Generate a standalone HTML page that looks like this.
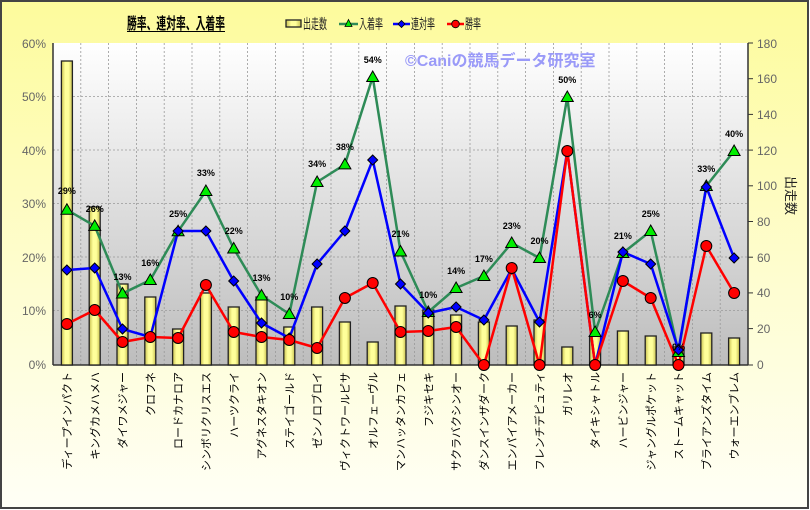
<!DOCTYPE html>
<html><head><meta charset="utf-8"><style>
html,body{margin:0;padding:0;background:#fff}
svg{display:block;font-family:"Liberation Sans","Noto Sans CJK JP",sans-serif}
</style></head><body>
<svg width="810" height="510" viewBox="0 0 810 510" xmlns="http://www.w3.org/2000/svg">
<defs>
<linearGradient id="bg" x1="0" y1="0" x2="0" y2="1">
<stop offset="0" stop-color="#fdfb9c"/><stop offset="0.55" stop-color="#fefdd0"/><stop offset="1" stop-color="#fffff6"/>
</linearGradient>
<linearGradient id="pa" x1="0" y1="0" x2="0" y2="1">
<stop offset="0" stop-color="#ffffff"/><stop offset="1" stop-color="#bdbdbd"/>
</linearGradient>
<linearGradient id="bar" x1="0" y1="0" x2="1" y2="0">
<stop offset="0" stop-color="#c8c050"/><stop offset="0.35" stop-color="#ffff9a"/><stop offset="0.65" stop-color="#ffff9a"/><stop offset="1" stop-color="#c8c050"/>
</linearGradient>
<symbol id="tri" overflow="visible"><polygon points="0,-6 6,4.5 -6,4.5" fill="#00ee00" stroke="#000" stroke-width="1"/></symbol>
<symbol id="dia" overflow="visible"><polygon points="0,-5 5,0 0,5 -5,0" fill="#0000ff" stroke="#000" stroke-width="1"/></symbol>
<symbol id="cir" overflow="visible"><circle r="5.5" fill="#ff0000" stroke="#000" stroke-width="1"/></symbol>
</defs>
<rect x="1" y="1" width="807" height="507" fill="url(#bg)" stroke="#444" stroke-width="2"/>
<rect x="53" y="43" width="695" height="322" fill="url(#pa)"/>
<g stroke="#999" stroke-width="0.8" stroke-dasharray="2,2">
<line x1="53" x2="748" y1="96.5" y2="96.5"/><line x1="53" x2="748" y1="150" y2="150"/><line x1="53" x2="748" y1="203.5" y2="203.5"/><line x1="53" x2="748" y1="257" y2="257"/><line x1="53" x2="748" y1="310.5" y2="310.5"/>
<line x1="80.8" x2="80.8" y1="43" y2="365"/><line x1="108.6" x2="108.6" y1="43" y2="365"/><line x1="136.4" x2="136.4" y1="43" y2="365"/><line x1="164.2" x2="164.2" y1="43" y2="365"/><line x1="192" x2="192" y1="43" y2="365"/><line x1="219.8" x2="219.8" y1="43" y2="365"/><line x1="247.6" x2="247.6" y1="43" y2="365"/><line x1="275.4" x2="275.4" y1="43" y2="365"/><line x1="303.2" x2="303.2" y1="43" y2="365"/><line x1="331" x2="331" y1="43" y2="365"/><line x1="358.8" x2="358.8" y1="43" y2="365"/><line x1="386.6" x2="386.6" y1="43" y2="365"/><line x1="414.4" x2="414.4" y1="43" y2="365"/><line x1="442.2" x2="442.2" y1="43" y2="365"/><line x1="470" x2="470" y1="43" y2="365"/><line x1="497.8" x2="497.8" y1="43" y2="365"/><line x1="525.6" x2="525.6" y1="43" y2="365"/><line x1="553.4" x2="553.4" y1="43" y2="365"/><line x1="581.2" x2="581.2" y1="43" y2="365"/><line x1="609" x2="609" y1="43" y2="365"/><line x1="636.8" x2="636.8" y1="43" y2="365"/><line x1="664.6" x2="664.6" y1="43" y2="365"/><line x1="692.4" x2="692.4" y1="43" y2="365"/><line x1="720.2" x2="720.2" y1="43" y2="365"/>
</g>
<g stroke="#333" stroke-width="1.5" fill="none">
<line x1="53" y1="43" x2="53" y2="365"/><line x1="748" y1="43" x2="748" y2="365"/><line x1="53" y1="365" x2="748" y2="365"/>
</g>
<g stroke="#333" stroke-width="1">
<line x1="748" x2="753" y1="43" y2="43"/><line x1="748" x2="753" y1="78.7" y2="78.7"/><line x1="748" x2="753" y1="114.4" y2="114.4"/><line x1="748" x2="753" y1="150.1" y2="150.1"/><line x1="748" x2="753" y1="185.8" y2="185.8"/><line x1="748" x2="753" y1="221.5" y2="221.5"/><line x1="748" x2="753" y1="257.2" y2="257.2"/><line x1="748" x2="753" y1="292.9" y2="292.9"/><line x1="748" x2="753" y1="328.6" y2="328.6"/><line x1="748" x2="753" y1="365" y2="365"/>
</g>
<g fill="url(#bar)" stroke="#222" stroke-width="1.3">
<rect x="61.4" y="61" width="11" height="304"/><rect x="89.2" y="207" width="11" height="158"/><rect x="117" y="284" width="11" height="81"/><rect x="144.8" y="297" width="11" height="68"/><rect x="172.6" y="329" width="11" height="36"/><rect x="200.4" y="293" width="11" height="72"/><rect x="228.2" y="307" width="11" height="58"/><rect x="256" y="297" width="11" height="68"/><rect x="283.8" y="327" width="11" height="38"/><rect x="311.6" y="307" width="11" height="58"/><rect x="339.4" y="322" width="11" height="43"/><rect x="367.2" y="342" width="11" height="23"/><rect x="395" y="306" width="11" height="59"/><rect x="422.8" y="310" width="11" height="55"/><rect x="450.6" y="315" width="11" height="50"/><rect x="478.4" y="322" width="11" height="43"/><rect x="506.2" y="326" width="11" height="39"/><rect x="534" y="320" width="11" height="45"/><rect x="561.8" y="347" width="11" height="18"/><rect x="589.6" y="336" width="11" height="29"/><rect x="617.4" y="331" width="11" height="34"/><rect x="645.2" y="336" width="11" height="29"/><rect x="673" y="347" width="11" height="18"/><rect x="700.8" y="333" width="11" height="32"/><rect x="728.6" y="338" width="11" height="27"/>
</g>
<text x="405" y="66" font-size="16" fill="#9a9af8" font-weight="bold">©Caniの競馬データ研究室</text>
<polyline fill="none" stroke="#2e8b57" stroke-width="2.5" stroke-linejoin="round" points="66.9,209.8 94.7,225.9 122.5,293.5 150.3,280 178.1,231.3 205.9,191 233.7,248.5 261.5,295.5 289.3,314 317.1,182 344.9,164.4 372.7,77 400.5,251.5 428.3,312 456.1,288 483.9,276 511.7,243 539.5,258 567.3,97 595.1,332 622.9,253 650.7,231 678.5,352 706.3,186 734.1,151"/>
<polyline fill="none" stroke="#0000ff" stroke-width="2.5" stroke-linejoin="round" points="66.9,270 94.7,268 122.5,329 150.3,337 178.1,231 205.9,231 233.7,281 261.5,323 289.3,338 317.1,264 344.9,231 372.7,160 400.5,284 428.3,313 456.1,307 483.9,320 511.7,269 539.5,322 567.3,151 595.1,365 622.9,252 650.7,264 678.5,350 706.3,187 734.1,258"/>
<polyline fill="none" stroke="#ff0000" stroke-width="2.5" stroke-linejoin="round" points="66.9,324 94.7,310 122.5,342 150.3,337 178.1,338 205.9,285 233.7,332 261.5,337 289.3,340 317.1,348 344.9,298 372.7,283 400.5,332 428.3,331 456.1,327 483.9,365 511.7,268 539.5,365 567.3,151 595.1,365 622.9,281 650.7,298 678.5,365 706.3,246 734.1,293"/>
<g>
<use href="#tri" x="66.9" y="209.8"/><use href="#tri" x="94.7" y="225.9"/><use href="#tri" x="122.5" y="293.5"/><use href="#tri" x="150.3" y="280"/><use href="#tri" x="178.1" y="231.3"/><use href="#tri" x="205.9" y="191"/><use href="#tri" x="233.7" y="248.5"/><use href="#tri" x="261.5" y="295.5"/><use href="#tri" x="289.3" y="314"/><use href="#tri" x="317.1" y="182"/><use href="#tri" x="344.9" y="164.4"/><use href="#tri" x="372.7" y="77"/><use href="#tri" x="400.5" y="251.5"/><use href="#tri" x="428.3" y="312"/><use href="#tri" x="456.1" y="288"/><use href="#tri" x="483.9" y="276"/><use href="#tri" x="511.7" y="243"/><use href="#tri" x="539.5" y="258"/><use href="#tri" x="567.3" y="97"/><use href="#tri" x="595.1" y="332"/><use href="#tri" x="622.9" y="253"/><use href="#tri" x="650.7" y="231"/><use href="#tri" x="678.5" y="352"/><use href="#tri" x="706.3" y="186"/><use href="#tri" x="734.1" y="151"/>
</g>
<g>
<use href="#dia" x="66.9" y="270"/><use href="#dia" x="94.7" y="268"/><use href="#dia" x="122.5" y="329"/><use href="#dia" x="150.3" y="337"/><use href="#dia" x="178.1" y="231"/><use href="#dia" x="205.9" y="231"/><use href="#dia" x="233.7" y="281"/><use href="#dia" x="261.5" y="323"/><use href="#dia" x="289.3" y="338"/><use href="#dia" x="317.1" y="264"/><use href="#dia" x="344.9" y="231"/><use href="#dia" x="372.7" y="160"/><use href="#dia" x="400.5" y="284"/><use href="#dia" x="428.3" y="313"/><use href="#dia" x="456.1" y="307"/><use href="#dia" x="483.9" y="320"/><use href="#dia" x="511.7" y="269"/><use href="#dia" x="539.5" y="322"/><use href="#dia" x="567.3" y="151"/><use href="#dia" x="595.1" y="365"/><use href="#dia" x="622.9" y="252"/><use href="#dia" x="650.7" y="264"/><use href="#dia" x="678.5" y="350"/><use href="#dia" x="706.3" y="187"/><use href="#dia" x="734.1" y="258"/>
</g>
<g>
<use href="#cir" x="66.9" y="324"/><use href="#cir" x="94.7" y="310"/><use href="#cir" x="122.5" y="342"/><use href="#cir" x="150.3" y="337"/><use href="#cir" x="178.1" y="338"/><use href="#cir" x="205.9" y="285"/><use href="#cir" x="233.7" y="332"/><use href="#cir" x="261.5" y="337"/><use href="#cir" x="289.3" y="340"/><use href="#cir" x="317.1" y="348"/><use href="#cir" x="344.9" y="298"/><use href="#cir" x="372.7" y="283"/><use href="#cir" x="400.5" y="332"/><use href="#cir" x="428.3" y="331"/><use href="#cir" x="456.1" y="327"/><use href="#cir" x="483.9" y="365"/><use href="#cir" x="511.7" y="268"/><use href="#cir" x="539.5" y="365"/><use href="#cir" x="567.3" y="151"/><use href="#cir" x="595.1" y="365"/><use href="#cir" x="622.9" y="281"/><use href="#cir" x="650.7" y="298"/><use href="#cir" x="678.5" y="365"/><use href="#cir" x="706.3" y="246"/><use href="#cir" x="734.1" y="293"/>
</g>
<g font-size="9" font-weight="bold" fill="#000" text-anchor="middle">
<text x="66.9" y="194">29%</text><text x="94.7" y="212">26%</text><text x="122.5" y="280">13%</text><text x="150.3" y="266">16%</text><text x="178.1" y="217">25%</text><text x="205.9" y="176">33%</text><text x="233.7" y="234">22%</text><text x="261.5" y="281">13%</text><text x="289.3" y="300">10%</text><text x="317.1" y="167">34%</text><text x="344.9" y="150">38%</text><text x="372.7" y="63">54%</text><text x="400.5" y="237">21%</text><text x="428.3" y="298">10%</text><text x="456.1" y="274">14%</text><text x="483.9" y="262">17%</text><text x="511.7" y="229">23%</text><text x="539.5" y="244">20%</text><text x="567.3" y="83">50%</text><text x="595.1" y="318">6%</text><text x="622.9" y="239">21%</text><text x="650.7" y="217">25%</text><text x="678.5" y="350">0%</text><text x="706.3" y="172">33%</text><text x="734.1" y="137">40%</text>
</g>
<g font-size="12" fill="#666" text-anchor="end">
<text x="46" y="48">60%</text><text x="46" y="101">50%</text><text x="46" y="155">40%</text><text x="46" y="208">30%</text><text x="46" y="262">20%</text><text x="46" y="315">10%</text><text x="46" y="369">0%</text>
</g>
<g font-size="12" fill="#666">
<text x="757" y="48">180</text><text x="757" y="83">160</text><text x="757" y="119">140</text><text x="757" y="155">120</text><text x="757" y="190">100</text><text x="757" y="226">80</text><text x="757" y="262">60</text><text x="757" y="297">40</text><text x="757" y="333">20</text><text x="757" y="369">0</text>
</g>
<text transform="translate(786,176) rotate(90)" font-size="13" fill="#222">出走数</text>
<g font-size="11" fill="#000" text-anchor="end">
<text transform="translate(71,372) rotate(-90)">ディープインパクト</text>
<text transform="translate(98.8,372) rotate(-90)">キングカメハメハ</text>
<text transform="translate(126.6,372) rotate(-90)">ダイワメジャー</text>
<text transform="translate(154.4,372) rotate(-90)">クロフネ</text>
<text transform="translate(182.2,372) rotate(-90)">ロードカナロア</text>
<text transform="translate(210,372) rotate(-90)">シンボリクリスエス</text>
<text transform="translate(237.8,372) rotate(-90)">ハーツクライ</text>
<text transform="translate(265.6,372) rotate(-90)">アグネスタキオン</text>
<text transform="translate(293.4,372) rotate(-90)">ステイゴールド</text>
<text transform="translate(321.2,372) rotate(-90)">ゼンノロブロイ</text>
<text transform="translate(349,372) rotate(-90)">ヴィクトワールピサ</text>
<text transform="translate(376.8,372) rotate(-90)">オルフェーヴル</text>
<text transform="translate(404.6,372) rotate(-90)">マンハッタンカフェ</text>
<text transform="translate(432.4,372) rotate(-90)">フジキセキ</text>
<text transform="translate(460.2,372) rotate(-90)">サクラバクシンオー</text>
<text transform="translate(488,372) rotate(-90)">ダンスインザダーク</text>
<text transform="translate(515.8,372) rotate(-90)">エンパイアメーカー</text>
<text transform="translate(543.6,372) rotate(-90)">フレンチデピュティ</text>
<text transform="translate(571.4,372) rotate(-90)">ガリレオ</text>
<text transform="translate(599.2,372) rotate(-90)">タイキシャトル</text>
<text transform="translate(627,372) rotate(-90)">ハービンジャー</text>
<text transform="translate(654.8,372) rotate(-90)">ジャングルポケット</text>
<text transform="translate(682.6,372) rotate(-90)">ストームキャット</text>
<text transform="translate(710.4,372) rotate(-90)">ブライアンズタイム</text>
<text transform="translate(738.2,372) rotate(-90)">ウォーエンブレム</text>
</g>
<text x="127" y="29" font-size="16" font-weight="bold" fill="#000" textLength="98" lengthAdjust="spacingAndGlyphs">勝率、連対率、入着率</text>
<line x1="127" y1="31.5" x2="225" y2="31.5" stroke="#000" stroke-width="1"/>
<rect x="286" y="20" width="15" height="7" fill="url(#bar)" stroke="#222" stroke-width="1.3"/>
<text x="303" y="29" font-size="14" fill="#222" textLength="24" lengthAdjust="spacingAndGlyphs">出走数</text>
<line x1="339" y1="24" x2="358" y2="24" stroke="#2e8b57" stroke-width="2.5"/>
<polygon points="348.5,19.5 352,26.5 345,26.5" fill="#00ee00" stroke="#000" stroke-width="0.8"/>
<text x="359" y="29" font-size="14" fill="#222" textLength="24" lengthAdjust="spacingAndGlyphs">入着率</text>
<line x1="393" y1="24" x2="410" y2="24" stroke="#0000ff" stroke-width="2.5"/>
<polygon points="401.5,20.5 405,24 401.5,27.5 398,24" fill="#0000ff" stroke="#000" stroke-width="0.8"/>
<text x="411" y="29" font-size="14" fill="#222" textLength="24" lengthAdjust="spacingAndGlyphs">連対率</text>
<line x1="447" y1="24" x2="464" y2="24" stroke="#ff0000" stroke-width="2.5"/>
<circle cx="455.5" cy="24" r="3.8" fill="#ff0000" stroke="#000" stroke-width="0.8"/>
<text x="465" y="29" font-size="14" fill="#222" textLength="16" lengthAdjust="spacingAndGlyphs">勝率</text>
</svg>
</body></html>
